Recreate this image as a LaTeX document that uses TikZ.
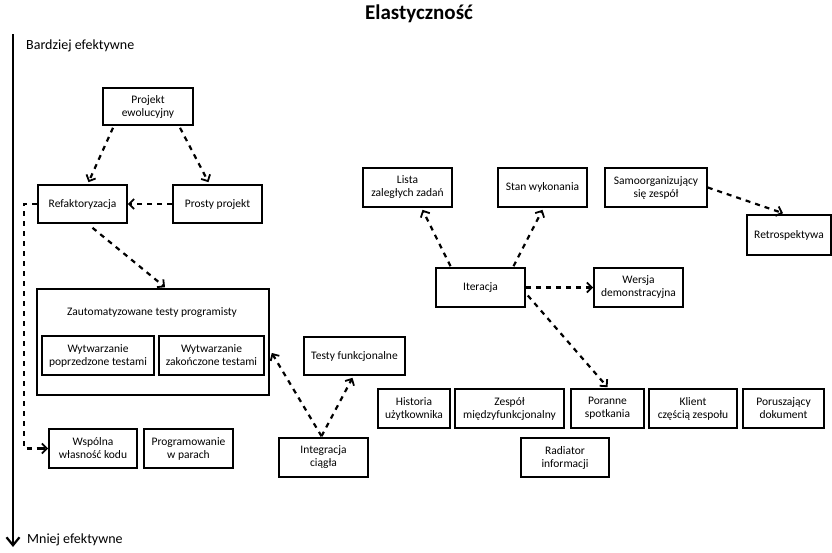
\documentclass[tikz,border=0pt]{standalone}
\usepackage{fontspec}
\setmainfont{Carlito}
\usetikzlibrary{arrows.meta,calc}
\tikzset{
  box/.style={draw, line width=1.6pt, align=center, inner sep=1pt,
    font=\fontsize{11.5}{13}\selectfont},
  dlink/.style={line width=2.2pt, dash pattern=on 5pt off 5pt,
    -{Straight Barb[length=5pt,width=10pt,line width=1.8pt]}},
  dline/.style={line width=2.2pt, dash pattern=on 5pt off 5pt},
  lbl/.style={font=\fontsize{11.5}{13}\selectfont, inner sep=0pt},
  axlbl/.style={font=\fontsize{14}{16}\selectfont, inner sep=0pt},
}
\begin{document}
\begin{tikzpicture}[x=1pt,y=-1pt]
\useasboundingbox (0,0) rectangle (832,552);
% title and axis
\node[font=\fontsize{21}{25}\selectfont\bfseries, anchor=base, inner sep=0pt] (title) at (419,19) {Elastyczność};
\coordinate (axtop) at (13,34);
\coordinate (axbot) at (13,547);
\draw[line width=2.4pt, -{Straight Barb[length=8pt,width=13pt,line width=2.2pt]}] (axtop) -- (axbot);
\node[axlbl, anchor=west] (top) at (26,46) {Bardziej efektywne};
\node[axlbl, anchor=west] (bot) at (27,540) {Mniej efektywne};

% left cluster
\node[box, minimum width=90pt, minimum height=37pt] (pe) at (148,106.5) {Projekt\\ewolucyjny};
\node[box, minimum width=89pt, minimum height=38pt] (ref) at (82.5,204) {Refaktoryzacja};
\node[box, minimum width=89pt, minimum height=38pt] (pro) at (217.5,204) {Prosty projekt};
\node[box, minimum width=232pt, minimum height=106pt] (zat) at (153,342) {};
\node[lbl] (zatt) at (152,313) {Zautomatyzowane testy programisty};
\node[box, minimum width=112pt, minimum height=39pt] (wpt) at (98,355.5) {Wytwarzanie\\poprzedzone testami};
\node[box, minimum width=105pt, minimum height=39pt] (wzt) at (211.5,355.5) {Wytwarzanie\\zakończone testami};
\node[box, minimum width=101pt, minimum height=38pt] (tf) at (354.5,356) {Testy funkcjonalne};
\node[box, minimum width=89pt, minimum height=39pt] (ic) at (323.5,457.5) {Integracja\\ciągła};
\node[box, minimum width=88pt, minimum height=39pt] (wsp) at (93,448.5) {Wspólna\\własność kodu};
\node[box, minimum width=89pt, minimum height=39pt] (pwp) at (188.5,448.5) {Programowanie\\w parach};

% right cluster
\node[box, minimum width=89pt, minimum height=39pt] (lista) at (407.5,187.5) {Lista\\zaległych zadań};
\node[box, minimum width=89pt, minimum height=39pt] (stan) at (542.5,187.5) {Stan wykonania};
\node[box, minimum width=102pt, minimum height=39pt] (samo) at (656,187.5) {Samoorganizujący\\się zespół};
\node[box, minimum width=84pt, minimum height=40pt] (retro) at (789,235) {Retrospektywa};
\node[box, minimum width=89pt, minimum height=39pt] (iter) at (480.5,287.5) {Iteracja};
\node[box, minimum width=89pt, minimum height=39pt] (wersja) at (638.5,287.5) {Wersja\\demonstracyjna};
\node[box, minimum width=72pt, minimum height=39pt] (hist) at (414,408.5) {Historia\\użytkownika};
\node[box, minimum width=109pt, minimum height=39pt] (zesp) at (509.5,408.5) {Zespół\\międzyfunkcjonalny};
\node[box, minimum width=73pt, minimum height=39pt] (por) at (607.5,408.5) {Poranne\\spotkania};
\node[box, minimum width=88pt, minimum height=39pt] (kli) at (693,408.5) {Klient\\częścią zespołu};
\node[box, minimum width=81pt, minimum height=39pt] (poru) at (783.5,408.5) {Poruszający\\dokument};
\node[box, minimum width=88pt, minimum height=39pt] (rad) at (565,457.5) {Radiator\\informacji};

% connectors left
\draw[dlink] ($(pe.south)+(-35,2)$) -- ($(ref.north)+(6,-2)$);
\draw[dlink] ($(pe.south)+(32,2)$) -- ($(pro.north)+(-9,-2)$);
\draw[dlink] (pro.west) -- (ref.east);
\draw[dlink] ($(ref.south)+(10,4)$) -- ($(zat.north)+(12,-1)$);
\draw[dline] (ref.west) -- ($(ref.west)+(-13,0)$) |- ($(wsp.west)+(-8,0)$);
\draw[dlink] ($(wsp.west)+(-8,0)$) -- (wsp.west);
\draw[dlink] ($(ic.north)+(-2,-1)$) -- ($(zat.east)+(2,11)$);
\draw[dlink] ($(ic.north)+(-2,-1)$) -- ($(tf.south)+(-2,2)$);

% connectors right
\draw[dlink] ($(iter.north)+(-30,-1)$) -- ($(lista.south)+(15,2)$);
\draw[dlink] ($(iter.north)+(33,-1)$) -- ($(stan.south)+(0,2)$);
\draw[dlink] (samo.east) -- ($(retro.north)+(-6,-1)$);
\draw[dlink] (iter.east) -- (wersja.west);
\draw[dlink] ($(iter.east)+(2,8)$) -- ($(por.north)+(0,-1)$);
\end{tikzpicture}
\end{document}
